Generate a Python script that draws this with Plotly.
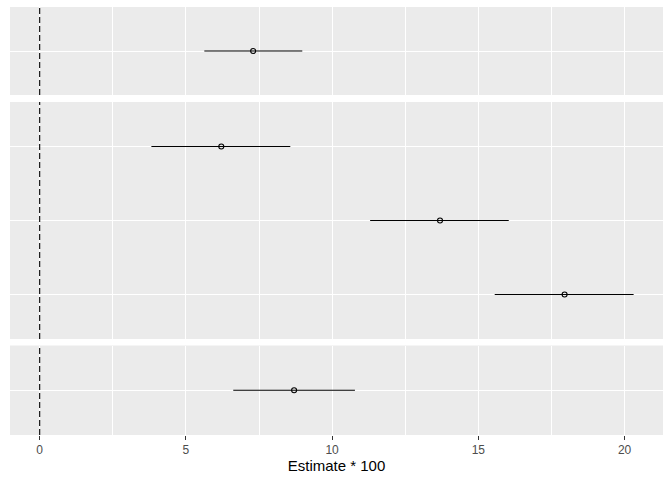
import plotly.graph_objects as go

# Data
panel1_labels = ["A"]
panel1_est = [7.30]
panel1_lo = [5.63]
panel1_hi = [8.98]

panel2_labels = ["B3", "B2", "B1"]   # bottom to top
panel2_est = [17.95, 13.69, 6.21]
panel2_lo = [15.56, 11.30, 3.82]
panel2_hi = [20.31, 16.04, 8.57]

panel3_labels = ["C"]
panel3_est = [8.70]
panel3_lo = [6.62]
panel3_hi = [10.78]

x_ticks = [0, 5, 10, 15, 20]
x_title = "Estimate * 100"

panels = [
    (panel1_labels, panel1_est, panel1_lo, panel1_hi),
    (panel2_labels, panel2_est, panel2_lo, panel2_hi),
    (panel3_labels, panel3_est, panel3_lo, panel3_hi),
]

H = 428.0
def frac(px_top, px_bot):
    return [(435 - px_bot) / H, (435 - px_top) / H]

domains = [frac(7, 95), frac(102, 339), frac(345.5, 435)]

fig = go.Figure()
xr = [-1.015, 21.315]
bg = "#EBEBEB"

for i, (labs, est, lo, hi) in enumerate(panels):
    n = i + 1
    xa = "x" if n == 1 else f"x{n}"
    ya = "y" if n == 1 else f"y{n}"
    fig.add_trace(go.Scatter(
        x=est, y=labs, xaxis=xa, yaxis=ya, mode="markers",
        marker=dict(symbol="circle-open", size=5, color="black", line=dict(width=1.1, color="black")),
        error_x=dict(type="data", symmetric=False,
                     array=[h - e for h, e in zip(hi, est)],
                     arrayminus=[e - l for e, l in zip(est, lo)],
                     width=0, thickness=1.1, color="black"),
        showlegend=False, hoverinfo="skip", cliponaxis=False,
    ))
    nl = len(labs)
    yk = "yaxis" if n == 1 else f"yaxis{n}"
    xk = "xaxis" if n == 1 else f"xaxis{n}"
    fig.layout[yk] = dict(
        domain=domains[i], anchor=xa, type="category",
        categoryorder="array", categoryarray=labs,
        range=[-0.6, nl - 0.4], showticklabels=False, ticks="",
        showgrid=True, gridcolor="white", gridwidth=1.1, zeroline=False,
        showline=False, fixedrange=True,
    )
    xd = dict(
        domain=[0, 1], anchor=ya, range=xr, tickvals=x_ticks,
        showgrid=True, gridcolor="white", gridwidth=1.1, zeroline=False,
        showline=False,
        minor=dict(tickvals=[2.5, 7.5, 12.5, 17.5], showgrid=True, gridcolor="white", gridwidth=0.55, ticks=""),
    )
    if n == 3:
        xd.update(showticklabels=True, ticks="outside", ticklen=4, tickwidth=1.1, tickcolor="#333333",
                  tickfont=dict(family="Liberation Sans, Arial", size=12, color="#4D4D4D"),
                  title=dict(text=x_title, font=dict(family="Liberation Sans, Arial", size=15, color="black"), standoff=4))
    else:
        xd.update(showticklabels=False, ticks="")
    if n != 1:
        xd["matches"] = "x"
    fig.layout[xk] = xd
    # background rectangle for panel
    fig.add_shape(type="rect", xref=f"{xa} domain", yref=f"{ya} domain", x0=0, x1=1, y0=0, y1=1,
                  fillcolor=bg, line=dict(width=0), layer="below")
    fig.add_shape(type="line", xref=xa, yref=f"{ya} domain", x0=0, x1=0, y0=0, y1=1,
                  line=dict(color="black", width=1.1, dash="6px,3px"), layer="above")

fig.update_layout(
    width=672, height=480,
    margin=dict(l=10, r=9, t=7, b=45),
    paper_bgcolor="white", plot_bgcolor="rgba(0,0,0,0)",
    font=dict(family="Liberation Sans, Arial"),
)

fig.write_html("out.html")
